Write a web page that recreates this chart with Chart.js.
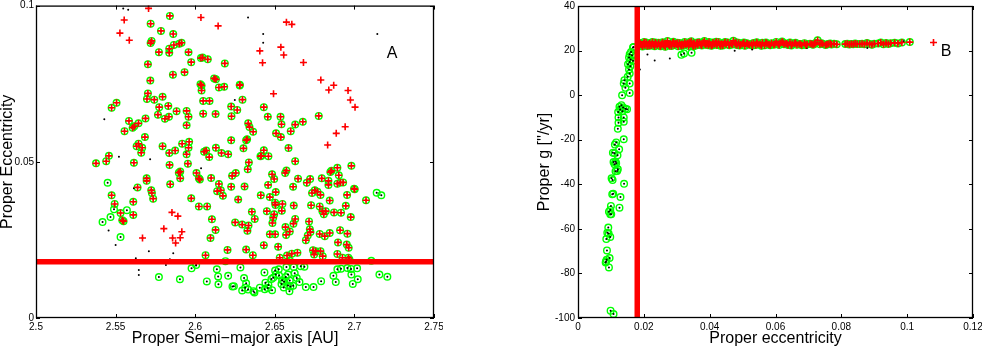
<!DOCTYPE html>
<html>
<head>
<meta charset="utf-8">
<script src="https://cdn.jsdelivr.net/npm/chart.js@4"></script>
<style>
  body { margin: 0; background: #fff; }
  #wrapA { position: absolute; left: 0; top: 0; width: 443px; height: 349px; }
  #wrapB { position: absolute; left: 530px; top: 0; width: 452px; height: 349px; }
</style>
</head>
<body>
<div id="wrapA"><canvas id="chartA" width="443" height="349"></canvas></div>
<div id="wrapB"><canvas id="chartB" width="452" height="349"></canvas></div>
<script>
// ---- panel A : proper a vs proper e ----
// members marked by both criteria (green circle + red plus)
const bothA = [
  [2.5841,0.0967],[2.5720,0.0942],[2.5785,0.0919],[2.5862,0.0909],[2.5726,0.0887],[2.5720,0.0880],
  [2.5914,0.0881],[2.5900,0.0878],[2.5866,0.0874],[2.5837,0.0862],[2.5837,0.0849],[2.5772,0.0851],
  [2.5958,0.0851],[2.6036,0.0832],[2.6046,0.0834],[2.6079,0.0828],[2.5975,0.0819],[2.6186,0.0815],
  [2.5703,0.0812],[2.5860,0.0779],[2.5933,0.0787],[2.6119,0.0767],[2.6130,0.0764],[2.5718,0.0760],
  [2.6033,0.0748],[2.6040,0.0744],[2.6040,0.0728],[2.6280,0.0747],[2.6280,0.0744],[2.6182,0.0740],
  [2.6149,0.0738],[2.5703,0.0719],[2.5697,0.0701],[2.5795,0.0708],[2.5743,0.0699],[2.6050,0.0695],
  [2.6090,0.0695],[2.6297,0.0699],[2.5506,0.0689],[2.5475,0.0673],[2.5774,0.0675],[2.5831,0.0679],
  [2.6226,0.0677],[2.6264,0.0666],[2.6431,0.0675],[2.5946,0.0663],[2.5883,0.0662],[2.5766,0.0651],
  [2.5810,0.0638],[2.5835,0.0644],[2.6050,0.0654],[2.6128,0.0653],[2.6228,0.0646],[2.5958,0.0644],
  [2.5688,0.0639],[2.6456,0.0644],[2.6536,0.0644],[2.6776,0.0647],[2.5584,0.0631],[2.5617,0.0614],
  [2.5607,0.0609],[2.5644,0.0623],[2.5946,0.0617],[2.6333,0.0623],[2.6341,0.0611],[2.6364,0.0596],
  [2.6542,0.0620],[2.6628,0.0619],[2.6676,0.0628],[2.5556,0.0598],[2.6508,0.0591],[2.6538,0.0579],
  [2.6600,0.0598],[2.5684,0.0579],[2.5644,0.0558],[2.5632,0.0550],[2.5667,0.0545],[2.5795,0.0550],
  [2.5918,0.0558],[2.5962,0.0564],[2.5958,0.0545],[2.6326,0.0572],[2.6320,0.0569],[2.6226,0.0569],
  [2.6130,0.0545],[2.6069,0.0536],[2.6056,0.0532],[2.6088,0.0515],[2.6303,0.0543],[2.6416,0.0519],
  [2.6431,0.0537],[2.6586,0.0544],[2.5837,0.0528],[2.5874,0.0536],[2.5946,0.0524],[2.6165,0.0528],
  [2.6207,0.0524],[2.6410,0.0518],[2.6460,0.0518],[2.5661,0.0529],[2.5377,0.0495],[2.5441,0.0502],
  [2.5458,0.0519],[2.5615,0.0497],[2.5839,0.0490],[2.5954,0.0494],[2.6337,0.0498],[2.6628,0.0502],
  [2.5906,0.0469],[2.5897,0.0465],[2.5906,0.0447],[2.6008,0.0464],[2.6029,0.0443],[2.6023,0.0447],
  [2.6100,0.0448],[2.6232,0.0455],[2.6255,0.0464],[2.6330,0.0476],[2.6483,0.0460],[2.6496,0.0445],
  [2.6573,0.0472],[2.6565,0.0464],[2.6646,0.0446],[2.6722,0.0445],[2.6701,0.0433],[2.6795,0.0447],
  [2.6856,0.0471],[2.6849,0.0467],[2.6893,0.0481],[2.6902,0.0457],[2.6981,0.0487],[2.6912,0.0434],
  [2.6929,0.0434],[2.6893,0.0430],[2.5695,0.0447],[2.5695,0.0439],[2.5843,0.0428],[2.6310,0.0421],
  [2.6226,0.0420],[2.6149,0.0429],[2.6161,0.0409],[2.6138,0.0406],[2.6615,0.0420],[2.6458,0.0426],
  [2.6837,0.0426],[2.6837,0.0439],[2.6998,0.0414],[2.7002,0.0412],[2.6954,0.0394],[2.6751,0.0409],
  [2.6768,0.0404],[2.6734,0.0400],[2.6787,0.0394],[2.5638,0.0418],[2.5724,0.0409],[2.5728,0.0400],
  [2.5736,0.0382],[2.5475,0.0393],[2.5975,0.0383],[2.6174,0.0391],[2.6270,0.0379],[2.6412,0.0393],
  [2.6469,0.0387],[2.6506,0.0403],[2.5611,0.0372],[2.5494,0.0365],[2.6023,0.0357],[2.6075,0.0357],
  [2.6502,0.0369],[2.6504,0.0362],[2.6548,0.0365],[2.6544,0.0343],[2.6619,0.0360],[2.6728,0.0361],
  [2.6845,0.0376],[2.6946,0.0359],[2.6782,0.0357],[2.6799,0.0342],[2.7073,0.0377],[2.5531,0.0336],
  [2.5611,0.0330],[2.5542,0.0313],[2.5550,0.0310],[2.6356,0.0340],[2.6374,0.0317],[2.6450,0.0342],
  [2.6496,0.0332],[2.6808,0.0332],[2.6820,0.0342],[2.6872,0.0338],[2.6916,0.0337],[2.6977,0.0323],
  [2.6490,0.0321],[2.6485,0.0304],[2.6628,0.0317],[2.6617,0.0302],[2.6567,0.0291],[2.6715,0.0309],
  [2.6105,0.0316],[2.6251,0.0306],[2.6295,0.0299],[2.6335,0.0296],[2.6328,0.0279],[2.6128,0.0282],
  [2.6096,0.0256],[2.6469,0.0268],[2.6502,0.0268],[2.6571,0.0266],[2.6594,0.0277],[2.6720,0.0284],
  [2.6724,0.0275],[2.6707,0.0264],[2.6695,0.0249],[2.6782,0.0269],[2.6814,0.0262],[2.6845,0.0272],
  [2.6910,0.0281],[2.6956,0.0270],[2.6897,0.0242],[2.6952,0.0235],[2.6964,0.0225],[2.6203,0.0218],
  [2.6320,0.0219],[2.6431,0.0233],[2.6521,0.0228],[2.6607,0.0206],[2.6642,0.0209],[2.6577,0.0200],
  [2.6740,0.0217],[2.6757,0.0214],[2.6747,0.0203],[2.6787,0.0214],[2.6801,0.0198],[2.6893,0.0205],
  [2.6925,0.0193],[2.6962,0.0193],[2.6969,0.0187],[2.6065,0.0201],[2.6362,0.0201],[2.6531,0.0193]
];
// red plus only
const plusA = [
  [2.5707,0.0991],[2.5554,0.0954],[2.6036,0.0962],[2.6144,0.0935],[2.6573,0.0947],[2.6607,0.0940],
  [2.5527,0.0912],[2.5586,0.0889],[2.6538,0.0867],[2.6406,0.0855],[2.6556,0.0842],[2.6423,0.0817],
  [2.6680,0.0818],[2.6789,0.0762],[2.6870,0.0745],[2.6839,0.0730],[2.6960,0.0728],[2.6492,0.0718],
  [2.6975,0.0698],[2.7004,0.0675],[2.6942,0.0612],[2.6886,0.0591],[2.6832,0.0554],[2.5854,0.0338],
  [2.5891,0.0326],[2.5803,0.0286],[2.5916,0.0276],[2.5669,0.0256],[2.5858,0.0256],[2.5877,0.0240],
  [2.5906,0.0257]
];
// green circle only
const circleA = [
  [2.5450,0.0433],[2.7140,0.0401],[2.7169,0.0393],[2.5490,0.0348],[2.5571,0.0345],[2.5418,0.0307],
  [2.5468,0.0323],[2.5531,0.0259],[2.6190,0.0182],[2.6595,0.0183],[2.7106,0.0183],
  [2.5977,0.0159],[2.6006,0.0170],[2.5772,0.0131],[2.5904,0.0124],[2.6073,0.0117],[2.6136,0.0156],
  [2.6144,0.0133],[2.6146,0.0108],[2.6207,0.0135],[2.6284,0.0162],[2.6234,0.0101],[2.6243,0.0102],
  [2.6307,0.0128],[2.6320,0.0111],[2.6314,0.0097],[2.6295,0.0088],[2.6332,0.0091],[2.6372,0.0082],
  [2.6406,0.0097],[2.6435,0.0146],[2.6441,0.0113],[2.6437,0.0092],[2.6456,0.0096],[2.6483,0.0089],
  [2.6479,0.0125],[2.6502,0.0152],[2.6506,0.0139],[2.6490,0.0129],[2.6525,0.0156],[2.6527,0.0136],
  [2.6546,0.0121],[2.6556,0.0098],[2.6558,0.0116],[2.6573,0.0163],[2.6583,0.0139],[2.6594,0.0120],
  [2.6598,0.0101],[2.6592,0.0086],[2.6619,0.0163],[2.6625,0.0143],[2.6638,0.0128],[2.6655,0.0115],
  [2.6663,0.0166],[2.6686,0.0164],[2.6695,0.0099],[2.6743,0.0099],[2.6791,0.0118],[2.6868,0.0135],
  [2.6883,0.0115],[2.6893,0.0156],[2.6916,0.0158],[2.6956,0.0160],[2.6979,0.0157],[2.6981,0.0139],
  [2.6990,0.0109],[2.7021,0.0124],[2.7017,0.0159],[2.7157,0.0139],[2.7207,0.0132],[2.6615,0.0103],
  [2.6583,0.0104],[2.6542,0.0109],[2.6569,0.0131],[2.6460,0.0106],[2.6366,0.0086]
];
// plain black dots
const dotA = [
  [2.5548,0.0991],[2.5579,0.0987],[2.6332,0.0962],[2.6427,0.0909],[2.6427,0.0881],[2.7144,0.0909],
  [2.6249,0.0698],[2.5429,0.0636],[2.5521,0.0516],[2.5717,0.0508],[2.6037,0.0479],[2.5943,0.0530],
  [2.5615,0.0415],[2.5456,0.0280],[2.5500,0.0234],[2.5709,0.0214],[2.5862,0.0207],[2.5816,0.0170],
  [2.5646,0.0154],[2.5646,0.0138],[2.5627,0.0191],[2.5841,0.0188],[2.6006,0.0168]
];
const cutA = 0.018;
const xTicksA = [2.5, 2.55, 2.6, 2.65, 2.7, 2.75];
const yTicksA = [0, 0.05, 0.1];

// ---- panel B : proper e vs proper g ----
const bothB = [
  [0.0185,22.1],[0.0188,23.4],[0.0190,22.9],[0.0192,22.6],[0.0196,21.8],[0.0199,23.0],[0.0201,23.9],
  [0.0203,22.4],[0.0207,23.6],[0.0210,22.0],[0.0214,22.9],[0.0216,22.2],[0.0218,23.3],[0.0222,22.3],
  [0.0226,23.8],[0.0229,22.6],[0.0233,21.9],[0.0235,23.6],[0.0237,23.1],[0.0241,22.5],[0.0245,23.5],
  [0.0249,22.2],[0.0251,21.9],[0.0253,22.9],[0.0257,23.7],[0.0261,22.4],[0.0263,23.3],[0.0265,21.7],
  [0.0268,23.2],[0.0272,24.3],[0.0276,22.7],[0.0278,22.2],[0.0280,23.0],[0.0284,22.1],[0.0288,23.6],
  [0.0290,24.0],[0.0292,22.5],[0.0296,23.2],[0.0300,22.8],[0.0302,23.5],[0.0304,21.9],[0.0308,23.4],
  [0.0312,22.6],[0.0314,22.0],[0.0316,23.0],[0.0320,22.3],[0.0324,23.8],[0.0326,22.9],[0.0328,22.7],
  [0.0332,23.3],[0.0336,22.1],[0.0338,23.7],[0.0340,23.0],[0.0344,24.2],[0.0348,22.6],[0.0350,21.9],
  [0.0352,23.4],[0.0356,22.2],[0.0360,23.1],[0.0362,23.6],[0.0364,22.5],[0.0368,23.7],[0.0372,22.9],
  [0.0374,22.6],[0.0376,22.3],[0.0380,23.5],[0.0384,24.3],[0.0386,23.0],[0.0388,22.6],[0.0392,23.2],
  [0.0396,22.4],[0.0398,23.8],[0.0400,23.0],[0.0405,22.2],[0.0408,22.4],[0.0410,23.6],[0.0414,22.8],
  [0.0418,23.3],[0.0420,24.0],[0.0422,22.5],[0.0427,23.9],[0.0431,22.7],[0.0433,22.2],[0.0436,23.1],
  [0.0440,22.3],[0.0445,23.4],[0.0447,23.9],[0.0450,22.8],[0.0455,23.6],[0.0458,22.6],[0.0460,22.4],
  [0.0466,23.2],[0.0469,22.7],[0.0472,24.4],[0.0478,22.9],[0.0480,23.7],[0.0483,22.5],[0.0488,23.5],
  [0.0491,22.3],[0.0494,22.7],[0.0500,23.1],[0.0504,23.6],[0.0507,22.2],[0.0513,23.3],[0.0516,22.9],
  [0.0520,22.6],[0.0527,22.9],[0.0530,22.3],[0.0533,23.4],[0.0540,22.5],[0.0543,23.7],[0.0546,23.0],
  [0.0553,22.8],[0.0557,22.2],[0.0560,23.5],[0.0567,22.4],[0.0571,23.6],[0.0574,23.1],[0.0580,22.7],
  [0.0584,22.4],[0.0588,23.3],[0.0595,22.6],[0.0598,23.0],[0.0602,23.9],[0.0608,22.9],[0.0611,22.5],
  [0.0614,23.4],[0.0620,24.1],[0.0623,23.5],[0.0626,22.8],[0.0632,23.2],[0.0635,22.9],[0.0638,22.5],
  [0.0644,23.6],[0.0648,22.3],[0.0651,22.9],[0.0658,23.2],[0.0661,23.5],[0.0665,22.6],[0.0672,23.0],
  [0.0676,22.9],[0.0680,22.4],[0.0688,23.3],[0.0692,22.5],[0.0696,22.8],[0.0705,23.1],[0.0710,23.0],
  [0.0714,22.6],[0.0718,22.9],[0.0722,23.4],[0.0728,24.6],[0.0735,22.8],[0.0740,23.3],[0.0744,23.0],
  [0.0752,22.5],[0.0756,22.7],[0.0760,22.9],[0.0766,23.2],[0.0770,22.7],[0.0778,23.1],[0.0786,22.8],
  [0.0812,22.9],[0.0818,23.1],[0.0824,22.7],[0.0830,23.0],[0.0836,22.8],[0.0842,23.2],[0.0848,22.9],
  [0.0856,23.0],[0.0863,23.1],[0.0870,22.8],[0.0878,23.4],[0.0886,23.0],[0.0893,22.6],[0.0900,23.1],
  [0.0912,23.2],[0.0920,23.6],[0.0928,22.8],[0.0936,23.4],[0.0943,22.9],[0.0950,23.3],[0.0962,23.5],
  [0.0972,23.2],[0.0984,23.6],[0.1008,23.8]
];
const plusB = [[0.1080,23.6]];
const circleB = [
  [0.0169,21.6],[0.0167,21.4],[0.0161,19.4],[0.0157,18.4],[0.0164,17.9],[0.0155,16.9],[0.0160,16.0],
  [0.0167,15.4],[0.0157,14.9],[0.0152,13.9],[0.0159,13.0],[0.0155,11.5],[0.0157,9.7],[0.0151,8.2],
  [0.0141,6.7],[0.0139,5.2],[0.0157,5.2],[0.0144,3.3],[0.0157,1.0],[0.0134,-0.1],[0.0126,-5.2],
  [0.0144,-6.1],[0.0132,-4.5],[0.0137,-5.5],[0.0128,-6.4],[0.0135,-7.2],[0.0149,-6.3],[0.0122,-7.6],
  [0.0139,-10.0],[0.0123,-10.0],[0.0139,-11.9],[0.0123,-12.4],[0.0121,-15.1],[0.0139,-19.8],
  [0.0116,-21.2],[0.0112,-22.2],[0.0125,-24.3],[0.0106,-25.8],[0.0111,-26.1],[0.0120,-27.0],
  [0.0114,-29.9],[0.0108,-30.0],[0.0111,-31.0],[0.0116,-30.6],[0.0121,-33.3],[0.0114,-34.2],
  [0.0119,-34.0],[0.0102,-37.3],[0.0105,-38.1],[0.0140,-39.8],[0.0107,-44.3],[0.0104,-44.5],
  [0.0129,-45.7],[0.0100,-49.7],[0.0098,-51.5],[0.0094,-52.3],[0.0098,-53.4],[0.0101,-53.4],
  [0.0126,-50.5],[0.0092,-59.4],[0.0089,-61.7],[0.0093,-62.1],[0.0098,-63.6],[0.0086,-64.6],
  [0.0088,-69.7],[0.0096,-73.1],[0.0085,-74.6],[0.0084,-75.1],[0.0087,-73.9],[0.0094,-77.3],
  [0.0099,-96.7],[0.0108,-98.2],[0.0314,18.1],[0.0322,18.7],[0.0345,19.0]
];
const dotB = [
  [0.0211,18.2],[0.0233,15.5],[0.0279,16.4],[0.0188,11.5],[0.0176,7.2],[0.0476,19.9],
  [0.0529,20.5],[0.0695,21.2],[0.0879,21.2],[0.0989,24.2]
];
const cutB = 0.018;
const xTicksB = [0, 0.02, 0.04, 0.06, 0.08, 0.1, 0.12];
const yTicksB = [-100, -80, -60, -40, -20, 0, 20, 40];

Chart.defaults.font.family = "'Liberation Sans', Arial, sans-serif";
Chart.defaults.color = '#000';

const pts = arr => arr.map(p => ({ x: p[0], y: p[1] }));

// box round the plot and inward ticks on all four sides, plus the panel letter
const frame = {
  id: 'frame',
  afterDatasetsDraw(chart, args, opts) {
    const { ctx, chartArea: c, scales } = chart;
    ctx.save();
    ctx.strokeStyle = '#000';
    ctx.lineWidth = 1;
    ctx.beginPath();
    scales.x.ticks.forEach(t => {
      const px = Math.round(scales.x.getPixelForValue(t.value)) + 0.5;
      ctx.moveTo(px, c.bottom); ctx.lineTo(px, c.bottom - 4);
      ctx.moveTo(px, c.top); ctx.lineTo(px, c.top + 4);
    });
    scales.y.ticks.forEach(t => {
      const py = Math.round(scales.y.getPixelForValue(t.value)) + 0.5;
      ctx.moveTo(c.left, py); ctx.lineTo(c.left + 4, py);
      ctx.moveTo(c.right, py); ctx.lineTo(c.right - 4, py);
    });
    ctx.stroke();
    ctx.lineWidth = 1.3;
    ctx.strokeRect(c.left + 0.5, c.top + 0.5, c.right - c.left - 1, c.bottom - c.top - 1);
    if (opts.text) {
      ctx.fillStyle = '#000';
      ctx.font = "16px 'Liberation Sans', Arial, sans-serif";
      ctx.textAlign = 'center';
      ctx.textBaseline = 'middle';
      ctx.fillText(opts.text, scales.x.getPixelForValue(opts.x), scales.y.getPixelForValue(opts.y));
    }
    ctx.restore();
  }
};

function makeAxis(ticks, min, max, size, title, titlePad, tickPad, horizontal) {
  return {
    type: 'linear',
    min: min,
    max: max,
    grid: { display: false, drawTicks: false },
    border: { display: false },
    afterBuildTicks: s => { s.ticks = ticks.map(v => ({ value: v })); },
    afterFit: s => {
      if (horizontal) s.height = size; else s.width = size;
      s.paddingTop = 0; s.paddingBottom = 0; s.paddingLeft = 0; s.paddingRight = 0;
    },
    ticks: {
      padding: tickPad,
      maxRotation: 0,
      autoSkip: false,
      font: { size: 10 },
      callback: v => String(v)
    },
    title: {
      display: true,
      text: title,
      font: { size: 16, lineHeight: 1 },
      padding: titlePad
    }
  };
}

function scatterSets(both, plus, circle, dot, cut, vertical, xr, yr) {
  const all = both.concat(plus, circle, dot);
  const line = vertical
    ? [{ x: cut, y: yr[0] }, { x: cut, y: yr[1] }]
    : [{ x: xr[0], y: cut }, { x: xr[1], y: cut }];
  return [
    { type: 'line', data: line, showLine: true, borderColor: '#ff0000', borderWidth: 5.5,
      pointRadius: 0, borderCapStyle: 'butt' },
    { data: pts(both.concat(plus)), pointStyle: 'cross', pointRadius: 3.5,
      borderColor: '#ff0000', borderWidth: 1.6 },
    { data: pts(all), pointStyle: 'circle', pointRadius: 1, borderWidth: 0,
      backgroundColor: '#000' },
    { data: pts(both.concat(circle)), pointStyle: 'circle', pointRadius: 3.3,
      borderColor: '#00ff00', backgroundColor: 'rgba(0,0,0,0)', borderWidth: 1.4 }
  ];
}

new Chart(document.getElementById('chartA'), {
  type: 'scatter',
  data: { datasets: scatterSets(bothA, plusA, circleA, dotA, cutA, false, [2.5, 2.75], [0, 0.1]) },
  options: {
    responsive: false,
    animation: false,
    layout: { padding: { top: 4, right: 9, left: 0, bottom: 0 } },
    plugins: {
      legend: { display: false },
      tooltip: { enabled: false },
      frame: { text: 'A', x: 2.7236, y: 0.0847 }
    },
    scales: {
      x: makeAxis(xTicksA, 2.5, 2.75, 31, 'Proper Semi\u2212major axis [AU]', { top: 0, bottom: 2.5 }, 3, true),
      y: makeAxis(yTicksA, 0, 0.1, 36, 'Proper Eccentricity', { top: 0, bottom: 0 }, 2, false)
    }
  },
  plugins: [frame]
});

new Chart(document.getElementById('chartB'), {
  type: 'scatter',
  data: { datasets: scatterSets(bothB, plusB, circleB, dotB, cutB, true, [0, 0.12], [-100, 40]) },
  options: {
    responsive: false,
    animation: false,
    layout: { padding: { top: 6, right: 9, left: 0, bottom: 0 } },
    plugins: {
      legend: { display: false },
      tooltip: { enabled: false },
      frame: { text: 'B', x: 0.1118, y: 19.7 }
    },
    scales: {
      x: makeAxis(xTicksB, 0, 0.12, 31, 'Proper eccentricity', { top: 0, bottom: 2.5 }, 3, true),
      y: makeAxis(yTicksB, -100, 40, 48, "Proper g [''/yr]", { top: 7, bottom: 0 }, 3, false)
    }
  },
  plugins: [frame]
});
</script>
</body>
</html>
